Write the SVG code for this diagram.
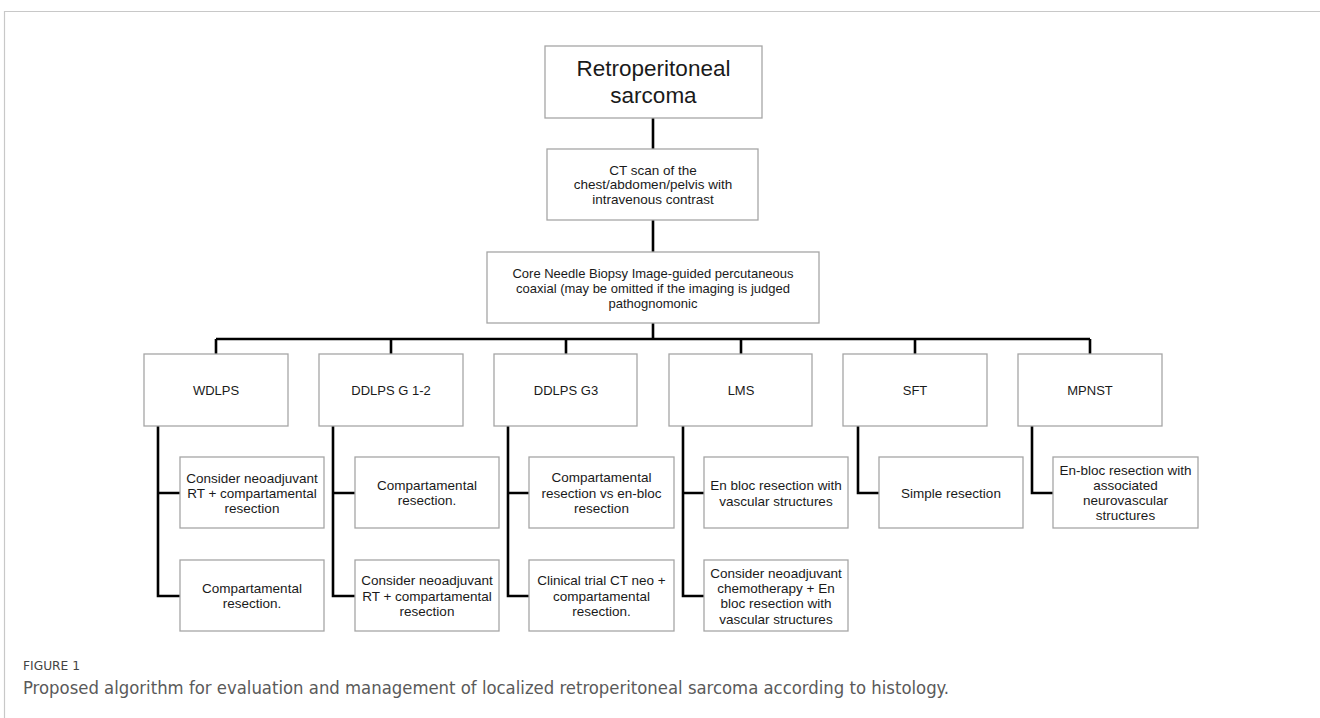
<svg xmlns="http://www.w3.org/2000/svg" width="1320" height="718" viewBox="0 0 1320 718">
<style>
.box{fill:#fff;stroke:#a6a6a6;stroke-width:1.3}
.t{font-family:"Liberation Sans",Arial,sans-serif;font-size:13.5px;fill:#1a1a1a;text-anchor:middle}
.c{font-size:13px}
.con{fill:none;stroke:#000;stroke-width:2.6}
.frame{fill:none;stroke:#c8c8c8;stroke-width:1.2}
</style>
<rect width="1320" height="718" fill="#fff"/>
<path class="frame" d="M4.5 718V11.5H1320"/>
<g id="connectors">
<path class="con" d="M653 118V149M653 220V252M653 323V339M216 339H1090M216 339V354M391 339V354M566 339V354M741 339V354M915 339V354M1090 339V354"/>
<path class="con" d="M158 426V596H180M158 493H180"/>
<path class="con" d="M333 426V596H355M333 493H355"/>
<path class="con" d="M508 426V596H529M508 493H529"/>
<path class="con" d="M683 426V596H704M683 493H704"/>
<path class="con" d="M858 426V493H879"/>
<path class="con" d="M1032 426V493H1053"/>
</g>
<g id="root"><rect class="box" x="545" y="46" width="217" height="72"/>
<text class="t" style="font-size:22.5px" x="653.5" y="76">Retroperitoneal</text>
<text class="t" style="font-size:22.5px" x="653.5" y="103">sarcoma</text></g>
<g id="ct"><rect class="box" x="547" y="149" width="211" height="71"/>
<text class="t" x="653" y="175">CT scan of the</text>
<text class="t" x="653" y="189">chest/abdomen/pelvis with</text>
<text class="t" x="653" y="204">intravenous contrast</text></g>
<g id="biopsy"><rect class="box" x="487" y="252" width="332" height="71"/>
<text class="t c" x="653" y="278">Core Needle Biopsy Image-guided percutaneous</text>
<text class="t c" x="653" y="293">coaxial (may be omitted if the imaging is judged</text>
<text class="t c" x="653" y="308">pathognomonic</text></g>
<g id="wdlps"><rect class="box" x="144" y="354" width="144" height="72"/><text class="t c" x="216" y="395">WDLPS</text></g>
<g id="ddlps12"><rect class="box" x="319" y="354" width="144" height="72"/><text class="t c" x="391" y="395">DDLPS G 1-2</text></g>
<g id="ddlps3"><rect class="box" x="494" y="354" width="143" height="72"/><text class="t c" x="566" y="395">DDLPS G3</text></g>
<g id="lms"><rect class="box" x="669" y="354" width="143" height="72"/><text class="t c" x="741" y="395">LMS</text></g>
<g id="sft"><rect class="box" x="843" y="354" width="144" height="72"/><text class="t c" x="915" y="395">SFT</text></g>
<g id="mpnst"><rect class="box" x="1018" y="354" width="144" height="72"/><text class="t c" x="1090" y="395">MPNST</text></g>
<g id="wdlps-a"><rect class="box" x="180" y="457" width="144" height="71"/>
<text class="t" x="252" y="483">Consider neoadjuvant</text><text class="t" x="252" y="498">RT + compartamental</text><text class="t" x="252" y="513">resection</text></g>
<g id="wdlps-b"><rect class="box" x="180" y="560" width="144" height="71"/>
<text class="t" x="252" y="593">Compartamental</text><text class="t" x="252" y="608">resection.</text></g>
<g id="ddlps12-a"><rect class="box" x="355" y="457" width="144" height="71"/>
<text class="t" x="427" y="490">Compartamental</text><text class="t" x="427" y="505">resection.</text></g>
<g id="ddlps12-b"><rect class="box" x="355" y="560" width="144" height="71"/>
<text class="t" x="427" y="585">Consider neoadjuvant</text><text class="t" x="427" y="601">RT + compartamental</text><text class="t" x="427" y="616">resection</text></g>
<g id="ddlps3-a"><rect class="box" x="529" y="457" width="145" height="71"/>
<text class="t" x="601.5" y="482">Compartamental</text><text class="t" x="601.5" y="498">resection vs en-bloc</text><text class="t" x="601.5" y="513">resection</text></g>
<g id="ddlps3-b"><rect class="box" x="529" y="560" width="145" height="71"/>
<text class="t" x="601.5" y="585">Clinical trial CT neo +</text><text class="t" x="601.5" y="601">compartamental</text><text class="t" x="601.5" y="616">resection.</text></g>
<g id="lms-a"><rect class="box" x="704" y="457" width="144" height="71"/>
<text class="t" x="776" y="490">En bloc resection with</text><text class="t" x="776" y="506">vascular structures</text></g>
<g id="lms-b"><rect class="box" x="704" y="560" width="144" height="71"/>
<text class="t" x="776" y="578">Consider neoadjuvant</text><text class="t" x="776" y="593">chemotherapy + En</text><text class="t" x="776" y="608">bloc resection with</text><text class="t" x="776" y="624">vascular structures</text></g>
<g id="sft-a"><rect class="box" x="879" y="457" width="144" height="71"/>
<text class="t" x="951" y="498">Simple resection</text></g>
<g id="mpnst-a"><rect class="box" x="1053" y="457" width="145" height="71"/>
<text class="t" x="1125.5" y="475">En-bloc resection with</text><text class="t" x="1125.5" y="490">associated</text><text class="t" x="1125.5" y="505">neurovascular</text><text class="t" x="1125.5" y="520">structures</text></g>
<g id="caption">
<text x="23" y="669.5" font-family="'Liberation Sans Narrow','DejaVu Sans Condensed','Liberation Sans',sans-serif" font-size="12.5" fill="#444" textLength="57" lengthAdjust="spacingAndGlyphs">FIGURE 1</text>
<text x="23" y="694" font-family="'Liberation Sans Narrow','DejaVu Sans Condensed','Liberation Sans',sans-serif" font-size="17" fill="#5a5a5a" textLength="926" lengthAdjust="spacingAndGlyphs">Proposed algorithm for evaluation and management of localized retroperitoneal sarcoma according to histology.</text>
</g>
</svg>
